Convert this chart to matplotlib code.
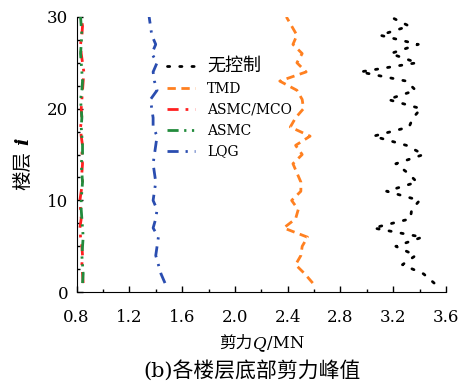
import matplotlib
matplotlib.use('Agg')
import matplotlib.pyplot as plt

floors = list(range(1, 31))

no_control = [3.51, 3.43, 3.27, 3.37, 3.22, 3.42, 3.05, 3.33, 3.34, 3.40,
              3.15, 3.38, 3.31, 3.22, 3.43, 3.30, 3.05, 3.32, 3.35, 3.41,
              3.16, 3.37, 3.30, 2.95, 3.38, 3.18, 3.39, 3.10, 3.32, 3.18]
tmd = [2.59, 2.53, 2.46, 2.50, 2.51, 2.55, 2.37, 2.46, 2.48, 2.43,
       2.50, 2.50, 2.47, 2.44, 2.51, 2.46, 2.57, 2.42, 2.46, 2.52,
       2.51, 2.47, 2.34, 2.54, 2.47, 2.51, 2.44, 2.47, 2.43, 2.39]
asmc_mco = [0.850, 0.845, 0.840, 0.845, 0.840, 0.830, 0.825, 0.835, 0.830, 0.825,
            0.835, 0.845, 0.840, 0.845, 0.840, 0.845, 0.835, 0.830, 0.840, 0.835,
            0.840, 0.845, 0.850, 0.855, 0.845, 0.835, 0.830, 0.840, 0.845, 0.835]
asmc = [0.845, 0.850, 0.845, 0.840, 0.845, 0.850, 0.845, 0.840, 0.835, 0.835,
        0.840, 0.845, 0.840, 0.835, 0.845, 0.845, 0.840, 0.835, 0.840, 0.835,
        0.830, 0.840, 0.845, 0.840, 0.835, 0.830, 0.835, 0.840, 0.835, 0.830]
lqg = [1.47, 1.44, 1.42, 1.40, 1.41, 1.42, 1.38, 1.40, 1.41, 1.38,
       1.39, 1.40, 1.39, 1.38, 1.39, 1.40, 1.41, 1.38, 1.38, 1.37,
       1.36, 1.41, 1.39, 1.38, 1.41, 1.37, 1.40, 1.37, 1.36, 1.35]

labels = ['无控制', 'TMD', 'ASMC/MCO', 'ASMC', 'LQG']
xticks = [0.8, 1.2, 1.6, 2.0, 2.4, 2.8, 3.2, 3.6]
yticks = [0, 10, 20, 30]

plt.rcParams['font.family'] = ['DejaVu Serif', 'Noto Sans CJK SC']

fig = plt.figure(figsize=(4.67, 3.83), dpi=100)
ax = fig.add_axes([0.164, 0.237, 0.791, 0.719])

ax.plot(no_control, floors, color='black', lw=2.0, linestyle=(0, (0.8, 3.6)),
        dash_capstyle='round', label=labels[0])
ax.plot(tmd, floors, color='#ff8020', lw=2.0, linestyle=(0, (3.0, 2.0)), label=labels[1])
ax.plot(asmc_mco, floors, color='#ff2020', lw=2.0, linestyle=(0, (4.0, 2.5, 1.0, 2.5)),
        label=labels[2])
ax.plot(asmc, floors, color='#228b3c', lw=2.0, linestyle=(0, (4.0, 2.0, 0.8, 2.0, 0.8, 2.0)),
        label=labels[3])
ax.plot(lqg, floors, color='#2a4db0', lw=2.0, linestyle=(0, (4.0, 2.5, 0.8, 2.5)),
        label=labels[4])

ax.set_xlim(0.8, 3.6)
ax.set_ylim(0, 30)
ax.set_xticks(xticks)
ax.set_xticklabels(['%.1f' % v for v in xticks])
ax.set_xticks([0.8 + 0.2 * i for i in range(15)], minor=True)
ax.set_yticks(yticks)
ax.set_yticks([2.5 * i for i in range(13)], minor=True)
for s in ['top', 'right']:
    ax.spines[s].set_visible(False)
ax.tick_params(which='major', direction='in', length=4, width=1, labelsize=12)
ax.tick_params(which='minor', direction='in', length=2.5, width=1)
ax.tick_params(axis='x', which='major', pad=12)
ax.tick_params(axis='y', which='major', pad=6)

leg = ax.legend(loc='upper left', bbox_to_anchor=(0.245, 0.855), frameon=False,
                fontsize=10, handlelength=2.0, handletextpad=0.9,
                labelspacing=0.5, borderpad=0, borderaxespad=0)
leg.get_texts()[0].set_fontsize(13)

# x axis title: 剪力 + italic Q + /MN
fig.text(0.540, 0.104, '剪力', ha='right', va='center', fontsize=12)
fig.text(0.541, 0.104, 'Q', ha='left', va='center', fontsize=12, style='italic')
fig.text(0.572, 0.104, '/MN', ha='left', va='center', fontsize=12)
fig.text(0.54, 0.032, '(b)各楼层底部剪力峰值', ha='center', va='center', fontsize=15)
fig.text(0.05, 0.555, '楼层', rotation=90, ha='center', va='center', fontsize=14)
fig.text(0.05, 0.63, 'i', rotation=90, ha='center', va='center', fontsize=14,
         fontweight='bold', style='italic')

fig.savefig('out.png', dpi=100)
